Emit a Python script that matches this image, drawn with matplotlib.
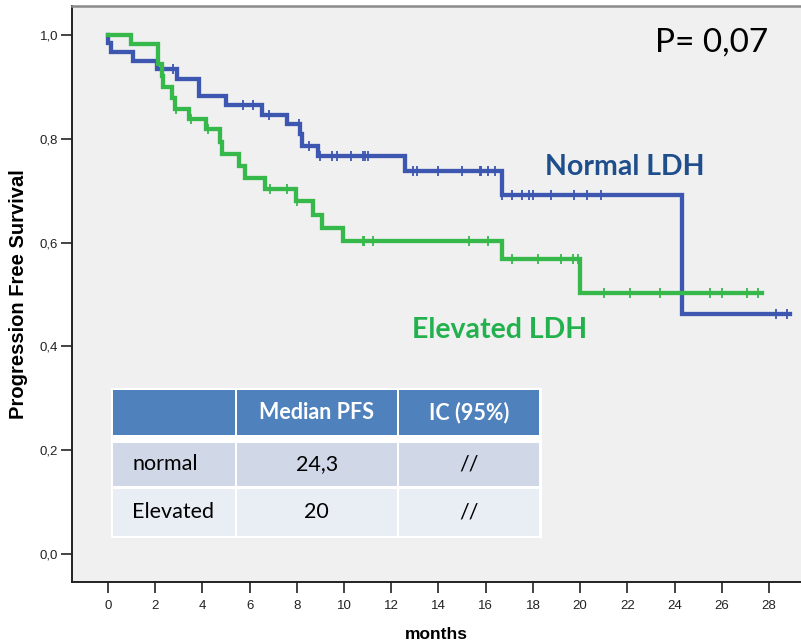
import numpy as np
import matplotlib
matplotlib.use("Agg")
import matplotlib.pyplot as plt
from matplotlib.patches import Rectangle

# ---- Kaplan-Meier data (months, survival after each event) ----
normal_event_times = [0.02, 0.12, 1.07, 2.06, 2.94, 3.86, 5.0, 6.54, 7.6, 8.14,
                      8.22, 8.9, 12.58, 16.68, 24.3]
normal_surv = [0.984, 0.968, 0.950, 0.934, 0.916, 0.882, 0.865, 0.846, 0.828,
               0.809, 0.787, 0.766, 0.738, 0.691, 0.463]
normal_censored = [2.76, 5.7, 6.13, 6.8, 8.1, 8.5, 9.0, 9.5, 9.7, 10.3, 10.8,
                   10.9, 11.0, 12.94, 13.1, 14.0, 15.0, 15.76, 15.8, 16.1, 16.4,
                   16.7, 17.1, 17.55, 17.85, 18.0, 18.77, 19.75, 20.28, 20.9,
                   28.3, 28.77]
normal_end = 28.9

elevated_event_times = [0.96, 2.13, 2.27, 2.34, 2.7, 2.84, 3.45, 4.15, 4.75,
                        4.82, 5.55, 5.8, 6.65, 7.95, 8.7, 9.05, 9.94, 16.68, 20.0]
elevated_surv = [0.983, 0.944, 0.921, 0.899, 0.878, 0.858, 0.839, 0.818, 0.794,
                 0.770, 0.748, 0.725, 0.703, 0.680, 0.653, 0.629, 0.603, 0.569,
                 0.503]
elevated_censored = [2.88, 3.5, 4.25, 6.86, 7.6, 8.0, 10.8, 10.85, 11.24, 15.3,
                     16.1, 17.1, 18.23, 19.2, 19.7, 19.93, 21.0, 22.1, 23.4, 25.5,
                     26.0, 27.05, 27.55]
elevated_end = 27.7

x_ticks = list(range(0, 30, 2))
y_ticks = [0.0, 0.2, 0.4, 0.6, 0.8, 1.0]

table_header = ["", "Median PFS", "IC (95%)"]
table_rows = [["normal", "24,3", "//"],
              ["Elevated", "20", "//"]]
p_value_text = "P= 0,07"

BLUE = "#3D56B0"
GREEN = "#36B84B"
W, H = 801, 644

fig = plt.figure(figsize=(W / 100, H / 100), dpi=100)
fig.patch.set_facecolor("white")
ax = fig.add_axes([72 / W, 1 - 582 / H, (W - 72) / W, (582 - 6) / H])
ax.set_facecolor("#F0F0F0")


def km_curve(times, surv, end):
    t = np.concatenate([[0.0], times, [end]])
    s = np.concatenate([[1.0], surv, [surv[-1]]])
    return t, s


def surv_at(times, surv, pts):
    full = np.concatenate([[1.0], surv])
    idx = np.searchsorted(np.asarray(times), np.asarray(pts), side="right")
    return full[idx]


for times, surv, cens, end, col, z in [
        (normal_event_times, normal_surv, normal_censored, normal_end, BLUE, 3),
        (elevated_event_times, elevated_surv, elevated_censored, elevated_end, GREEN, 4)]:
    t, s = km_curve(times, surv, end)
    ax.step(t, s, where="post", color=col, lw=3.1, zorder=z,
            solid_joinstyle="miter")
    ax.plot(cens, surv_at(times, surv, cens), linestyle="none", marker="|",
            markersize=7, markeredgewidth=1.3, color=col, zorder=z)

ax.set_xlim((72 - 108) / 23.607, (W - 108) / 23.607)
ax.set_ylim((554 - 582) / 519.0, (554 - 6) / 519.0)
ax.set_xticks(x_ticks)
ax.set_xticklabels([str(v) for v in x_ticks])
ax.set_yticks(y_ticks)
ax.set_yticklabels([f"{v:.1f}".replace(".", ",") for v in y_ticks])
ax.tick_params(axis="both", direction="out", length=8, width=1.2,
               color="#222222", labelsize=9.5, labelcolor="#222222")
ax.tick_params(axis="x", pad=5)
ax.tick_params(axis="y", pad=2)
for lbl in ax.get_xticklabels() + ax.get_yticklabels():
    lbl.set_fontfamily("Liberation Sans")

ax.spines["left"].set_color("#222222")
ax.spines["left"].set_linewidth(1.4)
ax.spines["bottom"].set_color("#222222")
ax.spines["bottom"].set_linewidth(1.4)
ax.spines["top"].set_color("#8A8A8A")
ax.spines["top"].set_linewidth(1.8)
ax.spines["right"].set_visible(False)

ax.set_xlabel("months", fontsize=12.5, fontweight="bold",
              fontfamily="Liberation Sans", labelpad=11)
ax.set_ylabel("Progression Free Survival", fontsize=14.5, fontweight="bold",
              fontfamily="Liberation Sans", labelpad=8)

ax.text((625 - 108) / 23.607, (554 - 167) / 519.0, "Normal LDH",
        color="#1F4E8C", fontsize=20.5, fontweight="bold", fontfamily="Lato",
        ha="center", va="center", zorder=6)
ax.text((500 - 108) / 23.607, (554 - 330) / 519.0, "Elevated LDH",
        color="#22B14C", fontsize=20.5, fontweight="bold", fontfamily="Lato",
        ha="center", va="center", zorder=6)
ax.text((712 - 108) / 23.607, (554 - 43) / 519.0, p_value_text,
        color="black", fontsize=24, fontfamily="Lato",
        ha="center", va="center", zorder=6)


# ---- summary table drawn in figure pixel space ----
def px_rect(x0, y0, x1, y1, color, z=5):
    fig.patches.append(Rectangle((x0 / W, 1 - y1 / H), (x1 - x0) / W,
                                 (y1 - y0) / H, transform=fig.transFigure,
                                 facecolor=color, edgecolor="none", zorder=z))


px_rect(111, 388, 542, 538, "white", z=5)
col_edges = [(113, 234.5), (237, 396.5), (399, 539)]
row_edges = [(390, 434.5), (442.5, 486), (489, 535.5)]
row_colors = ["#4F81BD", "#D0D8E8", "#E9EDF4"]

for r, (y0, y1) in enumerate(row_edges):
    for c, (x0, x1) in enumerate(col_edges):
        px_rect(x0, y0, x1, y1, row_colors[r], z=6)

for c, txt in enumerate(table_header):
    if txt:
        x0, x1 = col_edges[c]
        y0, y1 = row_edges[0]
        fig.text((x0 + x1) / 2 / W, 1 - (y0 + y1) / 2 / H, txt, color="white",
                 fontsize=15.5, fontweight="bold", fontfamily="Lato",
                 ha="center", va="center", zorder=7)

for r, row in enumerate(table_rows):
    y0, y1 = row_edges[r + 1]
    yc = 1 - (y0 + y1) / 2 / H
    for c, txt in enumerate(row):
        x0, x1 = col_edges[c]
        if c == 0:
            fig.text(132 / W, yc, txt, color="black", fontsize=15.5,
                     fontfamily="Lato", ha="left", va="center", zorder=7)
        else:
            fig.text((x0 + x1) / 2 / W, yc, txt, color="black", fontsize=15.5,
                     fontfamily="Lato", ha="center", va="center", zorder=7)

fig.savefig("out.png", dpi=100)
